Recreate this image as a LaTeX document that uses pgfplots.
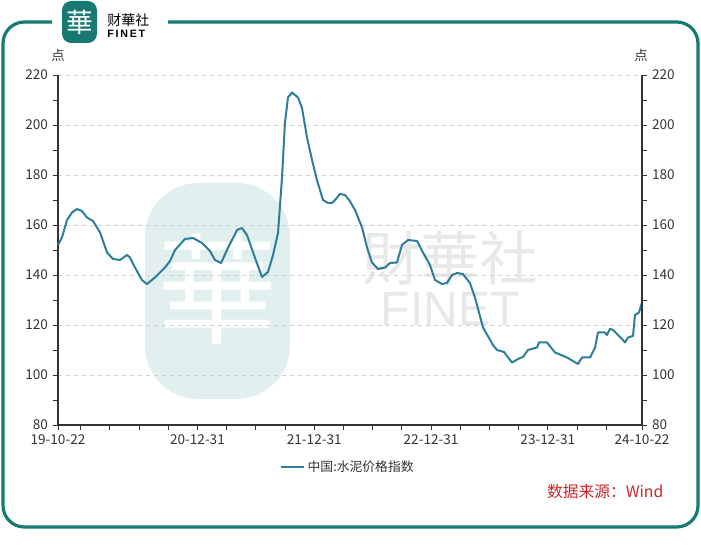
\documentclass[border=0pt]{standalone}
\usepackage{pgfplots}
\pgfplotsset{compat=1.18}
\usepackage{fontspec}
\setmainfont{Noto Sans CJK SC}
\newfontfamily\latinfont{Liberation Sans}
\definecolor{linec}{RGB}{46,125,155}
\definecolor{teal1}{RGB}{22,122,114}
\definecolor{srcred}{RGB}{200,40,40}
\definecolor{wm}{RGB}{232,232,232}
\definecolor{wmteal}{RGB}{225,240,239}
\definecolor{tickc}{RGB}{51,51,51}

\pgfplotstableread{
t v
2019.806 152
2019.840 155
2019.883 162
2019.926 165
2019.969 166.4
2020.011 165.6
2020.054 163
2020.106 161.6
2020.166 157
2020.226 149
2020.277 146.4
2020.337 146
2020.397 148
2020.422 147
2020.465 143
2020.525 138
2020.568 136.4
2020.636 139
2020.722 143
2020.765 145.6
2020.808 150
2020.893 154.4
2020.962 154.8
2021.039 152.8
2021.107 149.6
2021.150 146
2021.202 144.8
2021.261 150.8
2021.339 158
2021.381 158.8
2021.424 156
2021.493 146.8
2021.553 139.2
2021.604 141.2
2021.647 148
2021.690 156.8
2021.707 168
2021.724 179
2021.749 200.8
2021.775 211
2021.809 213
2021.835 212
2021.861 211
2021.895 206.8
2021.938 195
2021.981 186
2022.023 178
2022.049 174
2022.075 170
2022.118 168.8
2022.152 168.8
2022.178 170
2022.220 172.4
2022.263 172
2022.306 169.5
2022.349 166
2022.409 159
2022.452 151
2022.494 145
2022.546 142.4
2022.606 143
2022.648 144.8
2022.708 145
2022.751 152
2022.803 154
2022.880 153.6
2022.931 149
2022.991 144
2023.034 138
2023.094 136.4
2023.136 136.8
2023.179 140
2023.222 140.8
2023.273 140.4
2023.333 136.8
2023.376 131
2023.445 119
2023.530 112
2023.565 110
2023.625 109.2
2023.650 107.6
2023.693 105
2023.731 106
2023.761 106.8
2023.787 107.2
2023.830 110
2023.907 111
2023.924 113
2023.993 113
2024.061 109
2024.164 107
2024.258 104.4
2024.292 107
2024.361 107
2024.404 111
2024.429 117
2024.489 117
2024.506 116
2024.532 118.5
2024.558 118
2024.643 114
2024.660 113
2024.686 115
2024.729 115.6
2024.746 124
2024.780 125
2024.806 129
}\cementdata

\pgfplotsset{
  common/.style={
    at={(43.5pt,93pt)}, anchor=south west, scale only axis,
    width=438pt, height=262.5pt,
    xmin=2019.806, xmax=2024.806, ymin=80, ymax=220,
    axis line style={-, tickc, line width=0.8pt},
    tick align=outside,
    major tick length=4pt, minor tick length=4pt,
    tick style={tickc, line width=0.7pt},
    ytick={80,100,...,220},
    minor ytick={90,110,...,210},
    ticklabel style={font=\fontsize{10.2}{11}\selectfont, text=tickc},
    /pgf/number format/assume math mode=true,
    clip=false,
  }
}

\begin{document}
\begin{tikzpicture}[x=0.75pt,y=0.75pt]
\path[use as bounding box] (0,0) rectangle (701,549);
% border
\draw[teal1, line width=2.4pt, rounded corners=16pt]
  (168,527) -- (698,527) -- (698,22) -- (3,22) -- (3,527) -- (52,527);
% logo
\fill[teal1, rounded corners=7pt] (62,548) rectangle (97,506);
\node[text=white, font=\fontsize{20}{20}\selectfont] at (79.5,527) {華};
\node[anchor=west, align=left, inner sep=0pt, font=\fontsize{10.5}{10}\selectfont] at (107,523)
  {财華社\\[-1pt]{\latinfont\bfseries\fontsize{8}{9}\selectfont F\,I\,N\,E\,T}};
% watermark
\fill[wmteal, rounded corners=40pt] (145,366) rectangle (290,150);
\node[text=white, font=\fontsize{90}{90}\selectfont] at (217,260) {華};
\node[text=wm, font=\fontsize{44}{44}\selectfont] at (450,291) {財華社};
\node[text=wm, font=\latinfont\fontsize{36}{36}\selectfont] at (450,240) {FINET};

\begin{axis}[common,
  axis x line*=bottom, axis y line*=left,
  ymajorgrids, major grid style={dashed, black!18, line width=0.6pt},
  xtick={2019.806,2021,2022,2023,2024,2024.806},
  xticklabels={19-10-22,20-12-31,21-12-31,22-12-31,23-12-31,24-10-22},
  minor xtick={2020,2020.25,2020.5,2020.75,2021.25,2021.5,2021.75,2022.25,2022.5,2022.75,2023.25,2023.5,2023.75,2024.25,2024.5},
  legend style={at={(0.497,-0.12)}, anchor=center, draw=none, fill=none,
    font=\fontsize{9.6}{10}\selectfont, text=tickc,
    legend cell align=left},
  legend image code/.code={\draw[linec, line width=1.6pt] (0pt,0pt) -- (17pt,0pt);},
]
\addplot[linec, line width=1.5pt, line join=round] table[x=t,y=v] {\cementdata};
\addlegendentry{中国:水泥价格指数}
\end{axis}
\begin{axis}[common,
  axis y line*=right, axis x line=none,
]
\end{axis}
% units
\node[font=\fontsize{10}{11}\selectfont, text=tickc] at (58,494) {点};
\node[font=\fontsize{10}{11}\selectfont, text=tickc] at (641,494) {点};
% source
\node[anchor=east, text=srcred, font=\fontsize{11.8}{13}\selectfont] at (668,57) {数据来源：Wind};
\end{tikzpicture}
\end{document}
